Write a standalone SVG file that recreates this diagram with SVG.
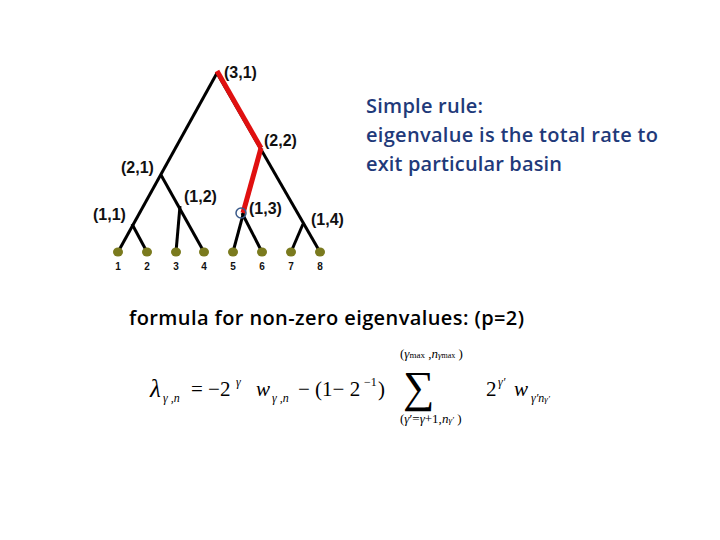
<svg xmlns="http://www.w3.org/2000/svg" width="720" height="540" viewBox="0 0 720 540">
<style>
.e{stroke:#000;stroke-width:3;fill:none}
.r{stroke:#e01010;stroke-width:5;fill:none}
.lf{fill:#7a7a1e}
.lb{font-family:"Liberation Sans",Arial,sans-serif;font-weight:bold;font-size:16px;fill:#111}
.n{font-family:"Liberation Sans",Arial,sans-serif;font-weight:bold;font-size:10px;fill:#111;text-anchor:middle}
.t{font-family:"Open Sans","Liberation Sans",sans-serif;font-size:20px;font-weight:600}
.m{font-family:"Liberation Serif","Times New Roman",serif;fill:#000}
</style>
<rect width="720" height="540" fill="#fff"/>
<g id="connectors">
<line class="e" x1="217" y1="73" x2="118" y2="252"/>
<line class="e" x1="217" y1="73" x2="320" y2="252"/>
<line class="e" x1="261" y1="148" x2="233" y2="252"/>
<line class="e" x1="161" y1="175" x2="204" y2="252"/>
<line class="e" x1="180" y1="206" x2="176" y2="252"/>
<line class="e" x1="132" y1="224" x2="147" y2="252"/>
<line class="e" x1="242" y1="213" x2="262" y2="252"/>
<line class="e" x1="303" y1="224" x2="291" y2="252"/>
<line class="r" x1="217" y1="71" x2="261" y2="148"/>
<line class="r" x1="261" y1="148" x2="243" y2="213"/>
<circle cx="241" cy="213" r="5" fill="none" stroke="#3a5a8a" stroke-width="1.5"/>
</g>
<g id="labels">
<text class="lb" x="224" y="78">(3,1)</text>
<text class="lb" x="264" y="146">(2,2)</text>
<text class="lb" x="121" y="173">(2,1)</text>
<text class="lb" x="184" y="202">(1,2)</text>
<text class="lb" x="249" y="214">(1,3)</text>
<text class="lb" x="93" y="220">(1,1)</text>
<text class="lb" x="311" y="225">(1,4)</text>
</g>
<g id="leaves">
<g id="leaf1"><ellipse class="lf" cx="118" cy="252" rx="5" ry="4.5"/><text class="n" x="118" y="270">1</text></g>
<g id="leaf2"><ellipse class="lf" cx="147" cy="252" rx="5" ry="4.5"/><text class="n" x="147" y="270">2</text></g>
<g id="leaf3"><ellipse class="lf" cx="176" cy="252" rx="5" ry="4.5"/><text class="n" x="176" y="270">3</text></g>
<g id="leaf4"><ellipse class="lf" cx="204" cy="252" rx="5" ry="4.5"/><text class="n" x="204" y="270">4</text></g>
<g id="leaf5"><ellipse class="lf" cx="233" cy="252" rx="5" ry="4.5"/><text class="n" x="233" y="270">5</text></g>
<g id="leaf6"><ellipse class="lf" cx="262" cy="252" rx="5" ry="4.5"/><text class="n" x="262" y="270">6</text></g>
<g id="leaf7"><ellipse class="lf" cx="291" cy="252" rx="5" ry="4.5"/><text class="n" x="291" y="270">7</text></g>
<g id="leaf8"><ellipse class="lf" cx="320" cy="252" rx="5" ry="4.5"/><text class="n" x="320" y="270">8</text></g>
</g>
<g id="rule">
<text class="t" fill="#1f3a7a" x="366" y="113" textLength="117">Simple rule:</text>
<text class="t" fill="#1f3a7a" x="366" y="142" textLength="292">eigenvalue is the total rate to</text>
<text class="t" fill="#1f3a7a" x="366" y="171" textLength="196">exit particular basin</text>
</g>
<text class="t" fill="#000" x="129" y="325" textLength="395">formula for non-zero eigenvalues: (p=2)</text>
<g id="formula" class="m">
<text x="150" y="397" font-size="25" font-style="italic">λ</text>
<text x="163" y="402" font-size="12" font-style="italic">γ ,n</text>
<text x="191" y="396" font-size="21">= −2</text>
<text x="236" y="386" font-size="12" font-style="italic">γ</text>
<text x="256" y="396" font-size="21" font-style="italic">w</text>
<text x="272" y="402" font-size="12" font-style="italic">γ ,n</text>
<text x="298" y="396" font-size="21">− (1− 2</text>
<text x="364" y="386" font-size="12">−1</text>
<text x="378" y="396" font-size="21">)</text>
<text x="403" y="402" font-size="44">∑</text>
<text x="400" y="358" font-size="13">(<tspan font-style="italic">γ</tspan><tspan font-size="9">max</tspan> ,<tspan font-style="italic">n</tspan><tspan font-size="9" font-style="italic">γ</tspan><tspan font-size="8">max</tspan> )</text>
<text x="400" y="423" font-size="13">(<tspan font-style="italic">γ</tspan>′=<tspan font-style="italic">γ</tspan>+1,<tspan font-style="italic">n</tspan><tspan font-size="9" font-style="italic">γ′</tspan> )</text>
<text x="486" y="396" font-size="21">2</text>
<text x="498" y="386" font-size="12" font-style="italic">γ′</text>
<text x="514" y="396" font-size="21" font-style="italic">w</text>
<text x="531" y="402" font-size="12" font-style="italic">γ′n<tspan font-size="9">γ′</tspan></text>
</g>
</svg>
